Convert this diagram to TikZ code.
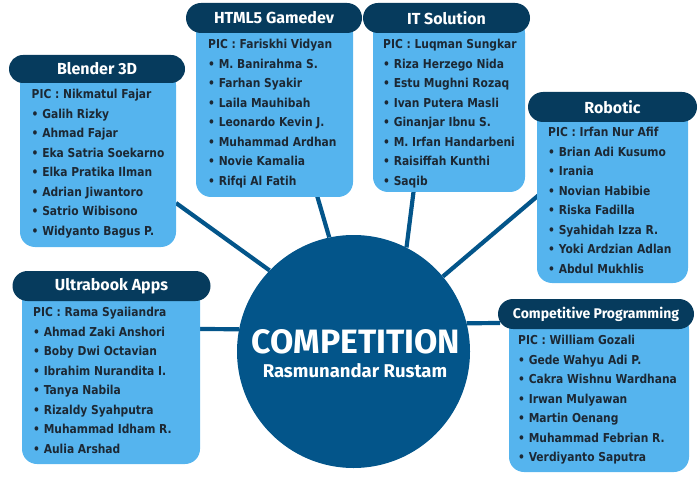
\documentclass[tikz,border=0pt]{standalone}
\usepackage{fontspec}
\setmainfont{DejaVu Sans}
\newfontfamily\headfont{Fira Sans}
\newfontfamily\bodyfont[FakeStretch=0.87]{DejaVu Sans}
\usetikzlibrary{shapes.misc,backgrounds}
\definecolor{navy}{HTML}{063B5D}
\definecolor{circ}{HTML}{03558A}
\definecolor{sky}{HTML}{55B4EE}
\definecolor{ink}{HTML}{1C2834}
\tikzset{
  panel/.style={fill=sky, rounded corners=15pt, inner sep=0pt, draw=none},
  header/.style={rounded rectangle, fill=navy, inner sep=0pt, text=white,
    font=\headfont\bfseries\fontsize{16}{18}\selectfont},
  members/.style={anchor=north west, align=left, inner sep=0pt, text=ink,
    font=\bodyfont\bfseries\fontsize{12.3}{19.5}\selectfont},
  link/.style={draw=circ, line width=4.2pt},
}
\begin{document}
\begin{tikzpicture}[x=1pt,y=-1pt]
\useasboundingbox (0,0) rectangle (700,486);

% connector end points on the panels
\coordinate (e1) at (176,203);
\coordinate (e2) at (316,192);
\coordinate (e3) at (414,188);
\coordinate (e4) at (540,194);
\coordinate (e5) at (198,329);
\coordinate (e6) at (500,323);

% central circle
\node[circle, fill=circ, minimum size=233pt, inner sep=0pt] (c) at (353.5,351.5) {};
\node[text=white, inner sep=0pt, font=\headfont\bfseries\fontsize{33.8}{36}\selectfont] (t1) at (356,341.5) {COMPETITION};
\node[text=white, inner sep=0pt, font=\headfont\bfseries\fontsize{18.5}{20}\selectfont] (t2) at (355,371) {Rasmunandar Rustam};

% connectors behind everything
\begin{scope}[on background layer]
\draw[link] (e1) -- (c.136);
\draw[link] (e2) -- (c.102);
\draw[link] (e3) -- (c.63);
\draw[link] (e4) -- (c.40);
\draw[link] (e5) -- (c.169);
\draw[link] (e6) -- (c.14);
\end{scope}

% Blender 3D
\node[panel, minimum width=156pt, minimum height=177pt] (p1) at (98,158.5) {};
\node[header, minimum width=176pt, minimum height=28pt] (h1) at (97,69) {Blender 3D};
\node[members] (m1) at (31.5,89) {PIC : Nikmatul Fajar\\• Galih Rizky\\• Ahmad Fajar\\• Eka Satria Soekarno\\• Elka Pratika Ilman\\• Adrian Jiwantoro\\• Satrio Wibisono\\• Widyanto Bagus P.};

% HTML5 Gamedev
\node[panel, minimum width=157pt, minimum height=179pt] (p2) at (274.5,107.5) {};
\node[header, minimum width=176pt, minimum height=30pt] (h2) at (274,18) {HTML5 Gamedev};
\node[members] (m2) at (208,39) {PIC : Fariskhi Vidyan\\• M. Banirahma S.\\• Farhan Syakir\\• Laila Mauhibah\\• Leonardo Kevin J.\\• Muhammad Ardhan\\• Novie Kamalia\\• Rifqi Al Fatih};

% IT Solution
\node[panel, minimum width=152pt, minimum height=174pt] (p3) at (449,105) {};
\node[header, minimum width=167pt, minimum height=30pt] (h3) at (446.5,18) {IT Solution};
\node[members] (m3) at (383,39) {PIC : Luqman Sungkar\\• Riza Herzego Nida\\• Estu Mughni Rozaq\\• Ivan Putera Masli\\• Ginanjar Ibnu S.\\• M. Irfan Handarbeni\\• Raisiffah Kunthi\\• Saqib};

% Robotic
\node[panel, minimum width=151pt, minimum height=176pt] (p4) at (612.5,195) {};
\node[header, minimum width=169pt, minimum height=30pt] (h4) at (612.5,107) {Robotic};
\node[members] (m4) at (548,127) {PIC : Irfan Nur Afif\\• Brian Adi Kusumo\\• Irania\\• Novian Habibie\\• Riska Fadilla\\• Syahidah Izza R.\\• Yoki Ardzian Adlan\\• Abdul Mukhlis};

% Ultrabook Apps
\node[panel, minimum width=178pt, minimum height=178pt] (p5) at (111,375) {};
\node[header, minimum width=198pt, minimum height=30pt] (h5) at (111.5,286) {Ultrabook Apps};
\node[members] (m5) at (33,307) {PIC : Rama Syaiiandra\\• Ahmad Zaki Anshori\\• Boby Dwi Octavian\\• Ibrahim Nurandita I.\\• Tanya Nabila\\• Rizaldy Syahputra\\• Muhammad Idham R.\\• Aulia Arshad};

% Competitive Programming
\node[panel, minimum width=180pt, minimum height=158pt] (p6) at (599,393) {};
\node[header, minimum width=196pt, minimum height=30pt, font=\headfont\bfseries\fontsize{14}{16}\selectfont] (h6) at (596,314) {Competitive Programming};
\node[members] (m6) at (518,335) {PIC : William Gozali\\• Gede Wahyu Adi P.\\• Cakra Wishnu Wardhana\\• Irwan Mulyawan\\• Martin Oenang\\• Muhammad Febrian R.\\• Verdiyanto Saputra};
\end{tikzpicture}
\end{document}
